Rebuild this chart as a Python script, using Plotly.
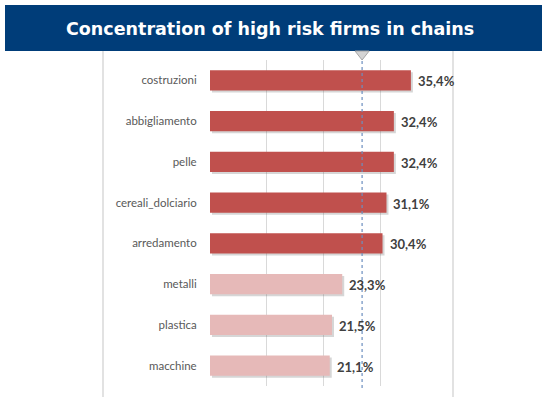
import plotly.graph_objects as go

categories = ["costruzioni", "abbigliamento", "pelle", "cereali_dolciario",
              "arredamento", "metalli", "plastica", "macchine"]
values = [35.4, 32.4, 32.4, 31.1, 30.4, 23.3, 21.5, 21.1]
labels = ["35,4%", "32,4%", "32,4%", "31,1%", "30,4%", "23,3%", "21,5%", "21,1%"]
high_risk = [True, True, True, True, True, False, False, False]
average = 26.8
title = "Concentration of high risk firms in chains"

DARK = "#C0504D"
LIGHT = "#E6B9B8"
colors = [DARK if h else LIGHT for h in high_risk]

W, H = 542, 397
L, R, T, B = 210, 105, 60, 11
pw, ph = W - L - R, H - T - B
xmin, xmax = 0, 40

def px_x(p):
    return (p - L) / pw

def px_y(p):
    return (H - B - p) / ph

fig = go.Figure()

# shadow
fig.add_trace(go.Bar(
    y=categories, x=values, base=0.35, orientation="h",
    width=0.5, offset=-0.2,
    marker=dict(color="rgba(90,90,90,0.25)", line=dict(width=0)),
    hoverinfo="skip", showlegend=False,
))
fig.add_trace(go.Bar(
    y=categories, x=values, orientation="h",
    width=0.5, offset=-0.25,
    marker=dict(color=colors, line=dict(width=0)),
    showlegend=False,
))

for c, v, t in zip(categories, values, labels):
    fig.add_annotation(x=v, y=c, text=t, showarrow=False, xanchor="left",
                       xshift=5, yshift=-1,
                       font=dict(family="Lato", size=13, color="#404040", weight="bold"))

shapes = [
    # banner
    dict(type="rect", xref="paper", yref="paper", x0=px_x(5), x1=px_x(542),
         y0=px_y(51), y1=px_y(5), fillcolor="#003D79", line=dict(width=0), layer="above"),
    # border lines
    dict(type="line", xref="paper", yref="paper", x0=px_x(103), x1=px_x(103),
         y0=px_y(397), y1=px_y(51), line=dict(color="#D9D9D9", width=1.5)),
    dict(type="line", xref="paper", yref="paper", x0=px_x(453), x1=px_x(453),
         y0=px_y(397), y1=px_y(51), line=dict(color="#D9D9D9", width=1.5)),
    # average line
    dict(type="line", xref="x", yref="paper", x0=average, x1=average,
         y0=px_y(388), y1=px_y(58), line=dict(color="#6C8EBF", width=1.2, dash="dot"),
         layer="above"),
    # triangle marker
    dict(type="path", xref="x", yref="paper",
         path=f"M {average-1.25},{px_y(51)} L {average+1.25},{px_y(51)} L {average},{px_y(60)} Z",
         fillcolor="#D4D4D4", line=dict(color="#A6A6A6", width=1), layer="above"),
]

fig.add_annotation(xref="paper", yref="paper", x=px_x(270), y=px_y(29),
                   xanchor="center", yanchor="middle",
                   text=title, showarrow=False,
                   font=dict(family="DejaVu Sans", size=17.5, color="white", weight="bold"))

fig.update_layout(
    width=W, height=H,
    margin=dict(l=L, r=R, t=T, b=B, pad=0),
    paper_bgcolor="white", plot_bgcolor="white",
    barmode="overlay",
    shapes=shapes,
    xaxis=dict(range=[xmin, xmax], tickvals=[0, 10, 20, 30, 40], showticklabels=False,
               showgrid=True, gridcolor="#D9D9D9", gridwidth=1, zeroline=False,
               showline=False, fixedrange=True),
    yaxis=dict(autorange="reversed", showgrid=False, showline=False, zeroline=False,
               ticks="outside", ticklen=10, tickcolor="rgba(0,0,0,0)",
               tickfont=dict(family="Lato", size=11.5, color="#595959")),
)

fig.write_html("out.html")
